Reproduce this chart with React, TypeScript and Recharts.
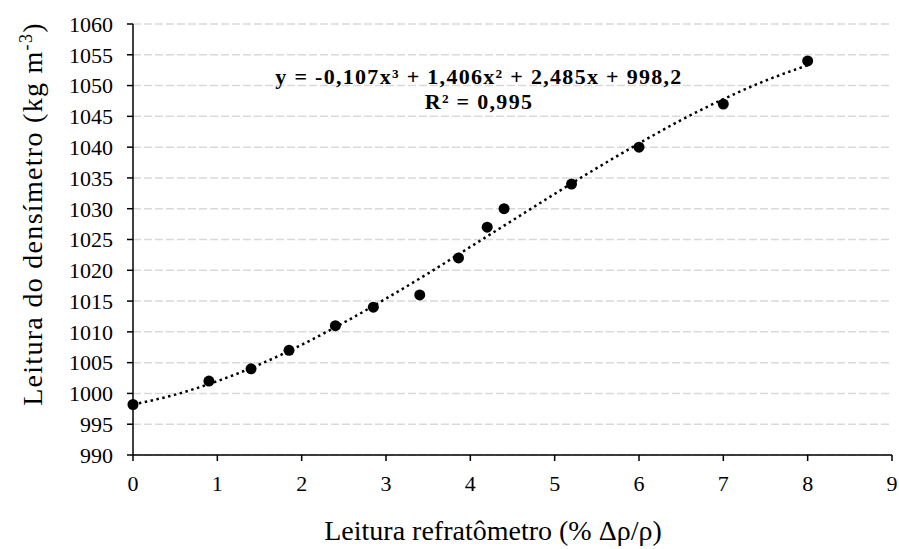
import React from 'react';
import { ComposedChart, Scatter, Line, XAxis, YAxis, CartesianGrid, Customized } from 'recharts';

// leituras medidas
const refratometro = [0, 0.9, 1.4, 1.85, 2.4, 2.85, 3.4, 3.86, 4.2, 4.4, 5.2, 6, 7, 8];
const densimetro = [998.2, 1002, 1004, 1007, 1011, 1014, 1016, 1022, 1027, 1030, 1034, 1040, 1047, 1054];

// linha de tendência (polinomial de 3ª ordem), lida a cada 0,5
const trendX = [0, 0.5, 1, 1.5, 2, 2.5, 3, 3.5, 4, 4.5, 5, 5.5, 6, 6.5, 7, 7.5, 8];
const trendY = [998.2, 999.8, 1002.0, 1004.7, 1007.9, 1011.5, 1015.4, 1019.5, 1023.8, 1028.1, 1032.4, 1036.6, 1040.6, 1044.4, 1047.8, 1050.8, 1053.3];

const xTicks = [0, 1, 2, 3, 4, 5, 6, 7, 8, 9];
const yTicks = [990, 995, 1000, 1005, 1010, 1015, 1020, 1025, 1030, 1035, 1040, 1045, 1050, 1055, 1060];

const points = refratometro.map((x, i) => ({ x, y: densimetro[i] }));
const trend = trendX.map((x, i) => ({ x, y: trendY[i] }));

const font = 'Liberation Serif, Times New Roman, serif';

const Dot = (props: any) => <circle cx={props.cx} cy={props.cy} r={5.5} fill="#000" />;

const Texts = () => (
  <g fontFamily={font} fill="#000">
    <text x={479} y={84} textAnchor="middle" fontWeight="bold" fontSize={22} letterSpacing={1.3}>
      y = -0,107x³ + 1,406x² + 2,485x + 998,2
    </text>
    <text x={479} y={109} textAnchor="middle" fontWeight="bold" fontSize={22} letterSpacing={1.3}>
      R² = 0,995
    </text>
    <text x={493} y={540} textAnchor="middle" fontSize={28}>
      Leitura refratômetro (% Δρ/ρ)
    </text>
    <text x={42} y={214} textAnchor="middle" fontSize={28} letterSpacing={1.3} transform="rotate(-90 42 214)">
      Leitura do densímetro (kg m<tspan dy={-10} fontSize={18}>-3</tspan>
      <tspan dy={10}>)</tspan>
    </text>
  </g>
);

export default function App() {
  return (
    <div style={{ position: 'absolute', left: 0, top: 0, background: '#fff' }}>
      <ComposedChart width={899} height={549} margin={{ top: 24, right: 7, bottom: 0, left: 0 }}>
        <CartesianGrid vertical={false} stroke="#d9d9d9" strokeWidth={1.5} strokeDasharray="8 3" />
        <XAxis
          type="number"
          dataKey="x"
          domain={[0, 9]}
          ticks={xTicks}
          interval={0}
          height={94}
          stroke="#000"
          strokeWidth={1.5}
          tickSize={6}
          tickMargin={14}
          tick={{ fill: '#000', fontSize: 22, fontFamily: font }}
        />
        <YAxis
          type="number"
          dataKey="y"
          domain={[990, 1060]}
          ticks={yTicks}
          interval={0}
          width={133}
          stroke="#000"
          strokeWidth={1.5}
          tickSize={6}
          tickMargin={14}
          tick={{ fill: '#000', fontSize: 22, fontFamily: font }}
        />
        <Line
          data={trend}
          dataKey="y"
          type="monotone"
          stroke="#000"
          strokeWidth={2.5}
          strokeDasharray="2.5 3.5"
          dot={false}
          activeDot={false}
          isAnimationActive={false}
        />
        <Scatter data={points} dataKey="y" shape={Dot} isAnimationActive={false} />
        <Customized component={Texts} />
      </ComposedChart>
    </div>
  );
}
